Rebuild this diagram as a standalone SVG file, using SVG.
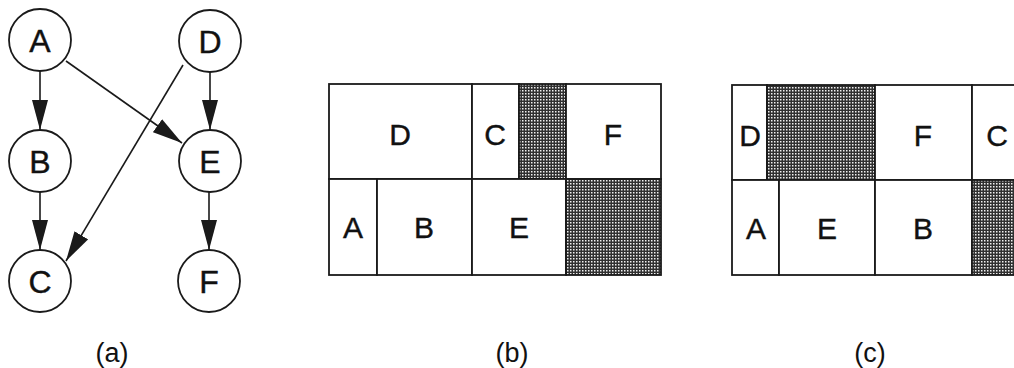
<svg xmlns="http://www.w3.org/2000/svg" width="1014" height="368" viewBox="0 0 1014 368">
  <style>
    .node circle { fill: #fff; stroke: #1a1a1a; stroke-width: 1.8; }
    .lbl { font-family: "Liberation Sans", Arial, sans-serif; font-size: 32px; fill: #111; text-anchor: middle; stroke: #111; stroke-width: 0.4; }
    .blbl { font-family: "Liberation Sans", Arial, sans-serif; font-size: 30px; fill: #111; text-anchor: middle; stroke: #111; stroke-width: 0.4; }
    .cap { font-family: "Liberation Sans", Arial, sans-serif; font-size: 27px; fill: #111; text-anchor: middle; }
    .edge { stroke: #1a1a1a; stroke-width: 1.6; fill: none; marker-end: url(#arrow); }
    .cell { fill: #fff; stroke: #1a1a1a; stroke-width: 1.8; }
    .shade { fill: url(#dither); stroke: #1a1a1a; stroke-width: 1.8; }
  </style>
  <defs>
    <marker id="arrow" markerUnits="userSpaceOnUse" markerWidth="30" markerHeight="16" refX="30" refY="8" orient="auto">
      <path d="M0,0 L30,8 L0,16 z" fill="#1a1a1a"/>
    </marker>
    <pattern id="dither" patternUnits="userSpaceOnUse" width="3" height="3">
      <rect width="3" height="3" fill="#303030"/>
      <rect width="1.5" height="1.5" fill="#f0f0f0"/>
    </pattern>
  </defs>
  <rect width="1014" height="368" fill="#fff"/>

  <!-- (a) graph -->
  <g id="connectors">
    <line class="edge" x1="40" y1="71" x2="40" y2="130"/>
    <line class="edge" x1="40" y1="192" x2="40" y2="250"/>
    <line class="edge" x1="66" y1="61" x2="182" y2="143"/>
    <line class="edge" x1="183" y1="65" x2="66" y2="261"/>
    <line class="edge" x1="210" y1="72" x2="210" y2="130"/>
    <line class="edge" x1="209" y1="192" x2="209" y2="250"/>
  </g>
  <g id="node-A" class="node"><circle cx="40" cy="40" r="31"/><text class="lbl" x="40" y="52">A</text></g>
  <g id="node-B" class="node"><circle cx="40" cy="161" r="31"/><text class="lbl" x="40" y="173">B</text></g>
  <g id="node-C" class="node"><circle cx="40" cy="281" r="31"/><text class="lbl" x="40" y="293">C</text></g>
  <g id="node-D" class="node"><circle cx="210" cy="41" r="31"/><text class="lbl" x="210" y="53">D</text></g>
  <g id="node-E" class="node"><circle cx="210" cy="161" r="31"/><text class="lbl" x="210" y="173">E</text></g>
  <g id="node-F" class="node"><circle cx="209" cy="281" r="31"/><text class="lbl" x="209" y="293">F</text></g>
  <text class="cap" x="112" y="362">(a)</text>

  <!-- (b) schedule -->
  <g id="schedule-b">
    <rect class="cell" x="329" y="84" width="143" height="95"/>
    <rect class="cell" x="472" y="84" width="47" height="95"/>
    <rect class="shade" x="519" y="84" width="47" height="95"/>
    <rect class="cell" x="566" y="84" width="95" height="95"/>
    <rect class="cell" x="329" y="179" width="48" height="96"/>
    <rect class="cell" x="377" y="179" width="95" height="96"/>
    <rect class="cell" x="472" y="179" width="94" height="96"/>
    <rect class="shade" x="566" y="179" width="95" height="96"/>
    <text class="blbl" x="400" y="145">D</text>
    <text class="blbl" x="495" y="145">C</text>
    <text class="blbl" x="613" y="145">F</text>
    <text class="blbl" x="353" y="238">A</text>
    <text class="blbl" x="424" y="238">B</text>
    <text class="blbl" x="519" y="238">E</text>
  </g>
  <text class="cap" x="512" y="362">(b)</text>

  <!-- (c) schedule -->
  <g id="schedule-c">
    <rect class="cell" x="732" y="85" width="35" height="95"/>
    <rect class="shade" x="767" y="85" width="108" height="95"/>
    <rect class="cell" x="875" y="85" width="97" height="95"/>
    <rect class="cell" x="972" y="85" width="52" height="95"/>
    <rect class="cell" x="732" y="180" width="47" height="95"/>
    <rect class="cell" x="779" y="180" width="96" height="95"/>
    <rect class="cell" x="875" y="180" width="97" height="95"/>
    <rect class="shade" x="972" y="180" width="52" height="95"/>
    <text class="blbl" x="750" y="146">D</text>
    <text class="blbl" x="923" y="146">F</text>
    <text class="blbl" x="997" y="146">C</text>
    <text class="blbl" x="756" y="239">A</text>
    <text class="blbl" x="827" y="239">E</text>
    <text class="blbl" x="923" y="239">B</text>
  </g>
  <text class="cap" x="870" y="362">(c)</text>
</svg>
